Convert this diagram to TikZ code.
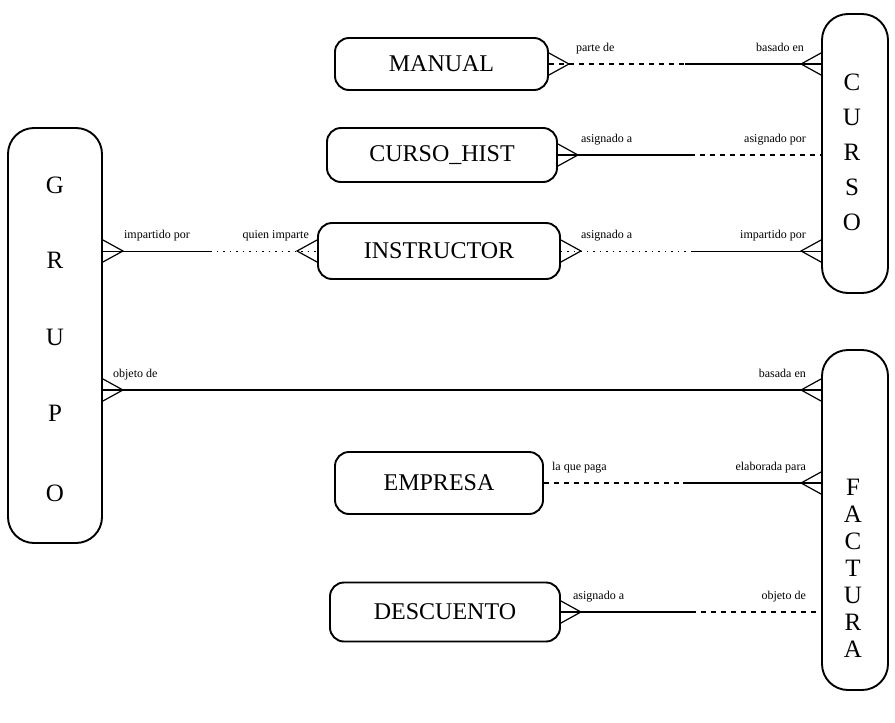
\documentclass[tikz,border=0pt]{standalone}
\usepackage{fontspec}
\setmainfont{Liberation Serif}
\usetikzlibrary{calc}
\begin{document}
\begin{tikzpicture}[x=1pt,y=-1pt,
  entity/.style={draw, line width=1.9pt, rounded corners=14pt, inner sep=0pt,
    font=\fontsize{24}{24}\selectfont},
  tall/.style={draw, line width=1.9pt, rounded corners=26pt, inner sep=0pt},
  letter/.style={font=\fontsize{25}{25}\selectfont, inner sep=0pt},
  lbl/.style={font=\fontsize{12}{12}\selectfont, inner sep=0pt},
  rel/.style={line width=1.2pt},
  optrel/.style={line width=1.2pt, dash pattern=on 5pt off 5pt},
  faint/.style={line width=0.8pt},
  dotrel/.style={line width=0.8pt, dash pattern=on 1.5pt off 5pt},
  crowline/.style={line width=1.2pt, line join=miter},
  crowE/.pic={\draw[crowline] (0,-11) -- (20,0) -- (0,11);},
  crowW/.pic={\draw[crowline] (0,-11) -- (-20,0) -- (0,11);}]
\useasboundingbox (0,0) rectangle (895,723);

% tall entities
\node[tall, minimum width=94pt, minimum height=415pt] (grupo) at (55,335.5) {};
\node[tall, minimum width=66pt, minimum height=279pt] (curso) at (855,153.5) {};
\node[tall, minimum width=66pt, minimum height=340pt] (factura) at (855,520) {};

\node[letter] (g1) at (55,185) {G};
\node[letter] (g2) at (55,260) {R};
\node[letter] (g3) at (55,337) {U};
\node[letter] (g4) at (55,413) {P};
\node[letter] (g5) at (55,493) {O};

\node[letter] (c1) at (852,82) {C};
\node[letter] (c2) at (852,117) {U};
\node[letter] (c3) at (852,152) {R};
\node[letter] (c4) at (852,187) {S};
\node[letter] (c5) at (852,222) {O};

\node[letter] (f1) at (853,487) {F};
\node[letter] (f2) at (853,514) {A};
\node[letter] (f3) at (853,541) {C};
\node[letter] (f4) at (853,568) {T};
\node[letter] (f5) at (853,595) {U};
\node[letter] (f6) at (853,622) {R};
\node[letter] (f7) at (853,649) {A};

% small entities
\node[entity, minimum width=213pt, minimum height=52pt] (manual) at (441.5,64) {MANUAL};
\node[entity, minimum width=230pt, minimum height=54pt] (hist) at (442,155) {CURSO\_HIST};
\node[entity, minimum width=242pt, minimum height=56pt] (instr) at (439,251) {INSTRUCTOR};
\node[entity, minimum width=208pt, minimum height=62pt] (empresa) at (439,483) {EMPRESA};
\node[entity, minimum width=230pt, minimum height=59pt] (desc) at (445,612) {DESCUENTO};

% MANUAL -- CURSO
\coordinate (r1) at (curso.west |- manual.east);
\path (manual.east) -- coordinate[pos=0.5] (m1) (r1);
\draw[optrel] (manual.east) -- (m1);
\draw[rel] (m1) -- (r1);
\pic at (manual.east) {crowE};
\pic at (r1) {crowW};
\node[lbl, anchor=base west] (l1a) at ($(manual.east)+(27,-13)$) {parte de};
\node[lbl, anchor=base east] (l1b) at ($(r1)+(-17,-13)$) {basado en};

% CURSO_HIST -- CURSO
\coordinate (r2) at (curso.west |- hist.east);
\path (hist.east) -- coordinate[pos=0.5] (m2) (r2);
\draw[rel] (hist.east) -- (m2);
\draw[optrel] (m2) -- (r2);
\pic at (hist.east) {crowE};
\node[lbl, anchor=base west] (l2a) at ($(hist.east)+(23,-13)$) {asignado a};
\node[lbl, anchor=base east] (l2b) at ($(r2)+(-15,-13)$) {asignado por};

% INSTRUCTOR -- CURSO
\coordinate (r3) at (curso.west |- instr.east);
\path (instr.east) -- coordinate[pos=0.5] (m3) (r3);
\draw[dotrel] (instr.east) -- (m3);
\draw[faint] (m3) -- (r3);
\pic at (instr.east) {crowE};
\pic at (r3) {crowW};
\node[lbl, anchor=base west] (l3a) at ($(instr.east)+(20,-13)$) {asignado a};
\node[lbl, anchor=base east] (l3b) at ($(r3)+(-15,-13)$) {impartido por};

% GRUPO -- INSTRUCTOR
\coordinate (q4) at (grupo.east |- instr.west);
\path (q4) -- coordinate[pos=0.5] (m4) (instr.west);
\draw[faint] (q4) -- (m4);
\draw[dotrel] (m4) -- (instr.west);
\pic at (q4) {crowE};
\pic at (instr.west) {crowW};
\node[lbl, anchor=base west] (l4a) at ($(q4)+(21,-13)$) {impartido por};
\node[lbl, anchor=base east] (l4b) at ($(instr.west)+(-8,-13)$) {quien imparte};

% GRUPO -- FACTURA
\coordinate (q5) at (grupo.east |- 0,390);
\coordinate (r5) at (factura.west |- 0,390);
\draw[rel] (q5) -- (r5);
\pic at (q5) {crowE};
\pic at (r5) {crowW};
\node[lbl, anchor=base west] (l5a) at ($(q5)+(10,-13)$) {objeto de};
\node[lbl, anchor=base east] (l5b) at ($(r5)+(-15,-13)$) {basada en};

% EMPRESA -- FACTURA
\coordinate (r6) at (factura.west |- empresa.east);
\path (empresa.east) -- coordinate[pos=0.5] (m6) (r6);
\draw[optrel] (empresa.east) -- (m6);
\draw[rel] (m6) -- (r6);
\pic at (r6) {crowW};
\node[lbl, anchor=base west] (l6a) at ($(empresa.east)+(8,-13)$) {la que paga};
\node[lbl, anchor=base east] (l6b) at ($(r6)+(-15,-13)$) {elaborada para};

% DESCUENTO -- FACTURA
\coordinate (r7) at (factura.west |- desc.east);
\path (desc.east) -- coordinate[pos=0.5] (m7) (r7);
\draw[rel] (desc.east) -- (m7);
\draw[optrel] (m7) -- (r7);
\pic at (desc.east) {crowE};
\node[lbl, anchor=base west] (l7a) at ($(desc.east)+(12,-13)$) {asignado a};
\node[lbl, anchor=base east] (l7b) at ($(r7)+(-15,-13)$) {objeto de};
\end{tikzpicture}
\end{document}
